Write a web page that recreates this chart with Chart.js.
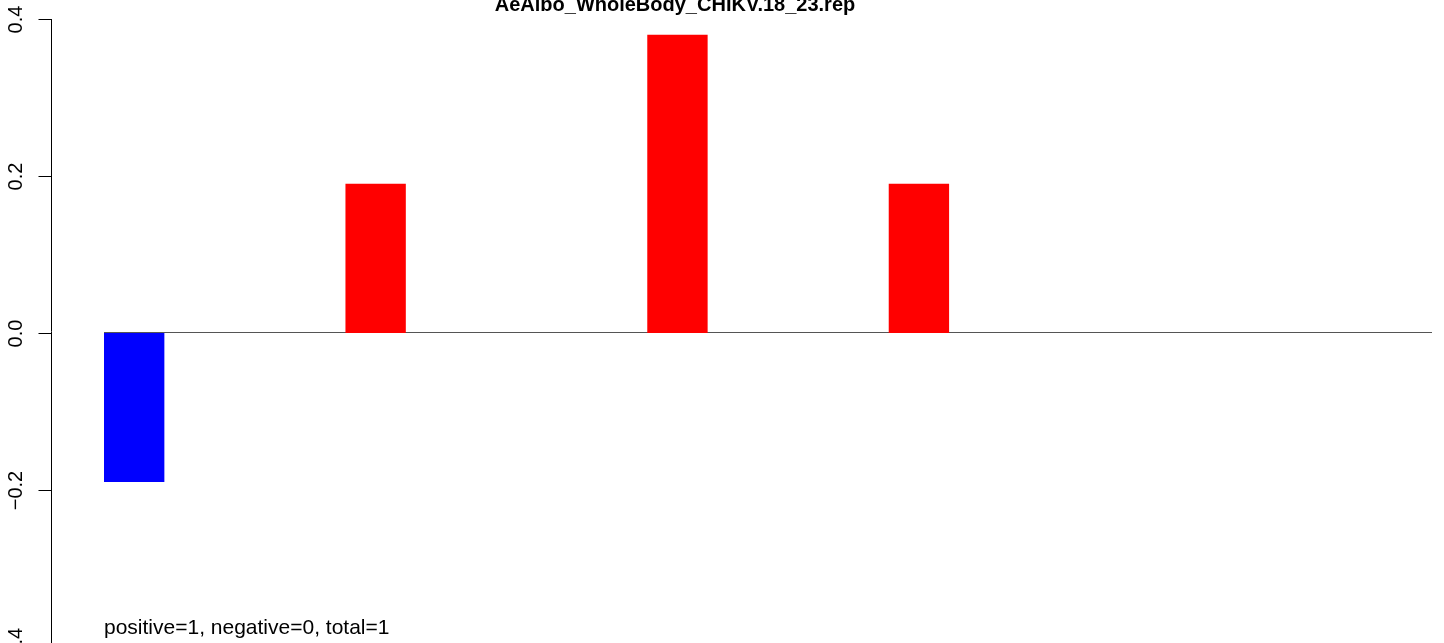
<!DOCTYPE html>
<html>
<head>
<meta charset="utf-8">
<script src="https://cdn.jsdelivr.net/npm/chart.js@4/dist/chart.umd.min.js"></script>
<style>
  html, body { margin: 0; padding: 0; background: #fff; overflow: hidden; }
  canvas { display: block; }
</style>
</head>
<body>
<canvas id="barChart" width="1444" height="643"></canvas>
<script>
// donnees du graphique
const titre = "AeAlbo_WholeBody_CHIKV.18_23.rep";
const categories = ["1","2","3","4","5","6","7","8","9","10","11","12","13","14","15","16","17","18","19","20","21","22"];
const valeurs = [-0.19, 0, 0, 0, 0.19, 0, 0, 0, 0, 0.38, 0, 0, 0, 0.19, 0, 0, 0, 0, 0, 0, 0, 0];
const yTicks = [-0.4, -0.2, 0.0, 0.2, 0.4];
const yTickLabels = ["\u22120.4", "\u22120.2", "0.0", "0.2", "0.4"];
const note = "positive=1, negative=0, total=1";
const noteY = -0.383;

// axe y facon R, titre, ligne du zero et texte du bas
const rDecor = {
  id: "rDecor",
  beforeDatasetsDraw(chart) {
    // ligne du zero, sous les barres
    const ctx = chart.ctx;
    const area = chart.chartArea;
    const y0 = Math.round(chart.scales.y.getPixelForValue(0)) - 0.5;
    ctx.save();
    ctx.strokeStyle = "#555";
    ctx.lineWidth = 1;
    ctx.beginPath();
    ctx.moveTo(area.left, y0);
    ctx.lineTo(area.right, y0);
    ctx.stroke();
    ctx.restore();
  },
  afterDraw(chart) {
    const ctx = chart.ctx;
    const area = chart.chartArea;
    const y = chart.scales.y;
    const cell = (area.right - area.left) / categories.length;
    const axeX = Math.round(area.left - 0.88 * cell) + 0.5;

    ctx.save();
    // axe y
    ctx.strokeStyle = "#000";
    ctx.lineWidth = 1;
    ctx.beginPath();
    ctx.moveTo(axeX, y.getPixelForValue(yTicks[yTicks.length - 1]));
    ctx.lineTo(axeX, y.getPixelForValue(yTicks[0]));
    ctx.stroke();
    ctx.fillStyle = "#000";
    ctx.font = "20px 'Liberation Sans', Arial, sans-serif";
    ctx.textAlign = "center";
    ctx.textBaseline = "alphabetic";
    yTicks.forEach((t, i) => {
      const py = Math.round(y.getPixelForValue(t)) + 0.5;
      ctx.beginPath();
      ctx.moveTo(axeX - 13, py);
      ctx.lineTo(axeX, py);
      ctx.stroke();
      ctx.save();
      ctx.translate(axeX - 30, py);
      ctx.rotate(-Math.PI / 2);
      ctx.fillText(yTickLabels[i], 0, 0);
      ctx.restore();
    });

    // titre (coupe en haut comme l'original)
    ctx.font = "bold 20px 'Liberation Sans', Arial, sans-serif";
    ctx.fillText(titre, 675, 11);

    // texte du bas
    ctx.font = "21px 'Liberation Sans', Arial, sans-serif";
    ctx.textAlign = "left";
    ctx.fillText(note, area.left, y.getPixelForValue(noteY));
    ctx.restore();
  }
};

const ctx = document.getElementById("barChart").getContext("2d");
const monGraphique = new Chart(ctx, {
  type: "bar",
  data: {
    labels: categories,
    datasets: [{
      data: valeurs,
      backgroundColor: valeurs.map(v => v < 0 ? "#0000ff" : "#ff0000"),
      borderWidth: 0,
      inflateAmount: 0,
      barPercentage: 1,
      categoryPercentage: 1
    }]
  },
  options: {
    responsive: false,
    animation: false,
    layout: { padding: { left: 104, right: 12, top: 19, bottom: 0 } },
    plugins: { legend: { display: false }, title: { display: false }, tooltip: { enabled: false } },
    scales: {
      x: { display: false, offset: true },
      y: { display: false, min: -0.395, max: 0.4 }
    }
  },
  plugins: [rDecor]
});
</script>
</body>
</html>
